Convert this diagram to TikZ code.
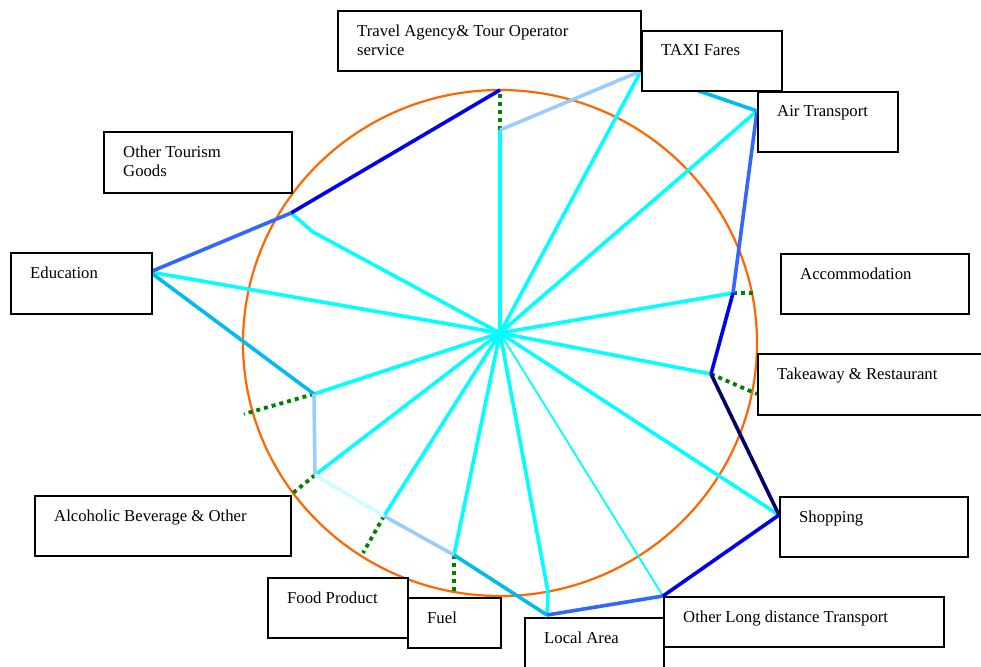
\documentclass[tikz,border=0pt]{standalone}
\usepackage{fontspec}
\setmainfont{Liberation Serif}
\usetikzlibrary{positioning}

\definecolor{ringorange}{HTML}{FF6600}
\definecolor{dotgreen}{HTML}{008000}
\definecolor{spokecyan}{HTML}{00FFFF}
\definecolor{deepblue}{HTML}{0000EE}
\definecolor{midblue}{HTML}{3366FF}
\definecolor{navyblue}{HTML}{000066}
\definecolor{skyblue}{HTML}{00BBEE}
\definecolor{paleblue}{HTML}{99CCFF}
\definecolor{paleteal}{HTML}{CCFFFF}

\begin{document}
\begin{tikzpicture}[x=1pt,y=-1pt,
  box/.style={draw,line width=1.8pt,fill=white,inner sep=0pt,anchor=north west},
  lbl/.style={anchor=north west,inner sep=0pt,align=left,font=\fontsize{16.7}{19.5}\selectfont},
  spoke/.style={spokecyan,line width=3.6pt,line join=round},
  rimline/.style={line width=3.6pt,line join=round},
  dots/.style={dotgreen,line width=3.8pt,dash pattern=on 4pt off 4pt}]
\useasboundingbox (0,0) rectangle (981,666);

% ring
\draw[ringorange,line width=2.2pt] (500,343) ellipse [x radius=257,y radius=253];

% points of the chart
\coordinate (hub) at (500,333);
\coordinate (topv) at (500,130);
\coordinate (topr) at (500,90);
\coordinate (taxiv) at (641,71);
\coordinate (airv) at (757,111);
\coordinate (accv) at (733,293);
\coordinate (accr) at (755,293);
\coordinate (takev) at (711,374);
\coordinate (taker) at (757,394);
\coordinate (shopv) at (779,515);
\coordinate (longv) at (663,596);
\coordinate (localb) at (548,592);
\coordinate (localv) at (547,615);
\coordinate (fuelv) at (454,555);
\coordinate (fuelr) at (454,594);
\coordinate (foodv) at (384,516);
\coordinate (foodr) at (363,553);
\coordinate (alcov) at (315,475);
\coordinate (alcor) at (293,493);
\coordinate (midv) at (314,394);
\coordinate (midr) at (244,414);
\coordinate (eduv) at (150,272);
\coordinate (otherb) at (313,232);
\coordinate (otherv) at (291,213);

% spokes
\foreach \v in {topv,taxiv,airv,accv,takev,shopv,fuelv,foodv,alcov,midv,eduv}
  \draw[spoke] (hub) -- (\v);
\draw[spoke,line width=1.8pt] (hub) -- (longv);
\draw[spoke] (hub) -- (localb) -- (localv);
\draw[spoke] (hub) -- (otherb) -- (otherv);

% dotted ticks
\draw[dots] (topv) -- (topr);
\draw[dots] (accv) -- (accr);
\draw[dots] (takev) -- (taker);
\draw[dots] (fuelv) -- (fuelr);
\draw[dots] (foodv) -- (foodr);
\draw[dots] (alcov) -- (alcor);
\draw[dots] (midv) -- (midr);

% outline
\draw[rimline,deepblue] (topr) -- (otherv);
\draw[rimline,midblue] (otherv) -- (eduv);
\draw[rimline,skyblue] (eduv) -- (midv);
\draw[rimline,paleblue] (midv) -- (alcov);
\draw[rimline,paleteal] (alcov) -- (foodv);
\draw[rimline,paleblue] (foodv) -- (fuelv);
\draw[rimline,skyblue] (fuelv) -- (localv);
\draw[rimline,midblue] (localv) -- (longv);
\draw[rimline,deepblue] (longv) -- (shopv);
\draw[rimline,navyblue] (shopv) -- (takev);
\draw[rimline,deepblue] (takev) -- (accv);
\draw[rimline,midblue] (accv) -- (airv);
\draw[rimline,skyblue] (airv) -- (taxiv);
\draw[rimline,paleblue] (taxiv) -- (topv);

% boxes
\node[box,minimum width=303pt,minimum height=60pt] (travel) at (337,10) {};
\node[box,minimum width=140pt,minimum height=60pt] (taxi) at (641,30) {};
\node[box,minimum width=140pt,minimum height=60pt] (air) at (757,91) {};
\node[box,minimum width=188pt,minimum height=61pt] (other) at (103,131) {};
\node[box,minimum width=141pt,minimum height=61pt] (edu) at (10,252) {};
\node[box,minimum width=188pt,minimum height=60pt] (acc) at (780,253) {};
\node[box,minimum width=240pt,minimum height=61pt] (take) at (757,353) {};
\node[box,minimum width=256pt,minimum height=60pt] (alco) at (34,495) {};
\node[box,minimum width=188pt,minimum height=60pt] (shop) at (779,496) {};
\node[box,minimum width=140pt,minimum height=60pt] (food) at (267,577) {};
\node[box,minimum width=93pt,minimum height=50pt] (fuel) at (407,597) {};
\node[box,minimum width=139pt,minimum height=70pt] (local) at (524,617) {};
\node[box,minimum width=280pt,minimum height=50pt] (long) at (663,596) {};

% labels
\node[lbl] (travel-t) at ([shift={(20,14.6)}]travel.north west) {Travel Agency\& Tour Operator\\service};
\node[lbl] (taxi-t) at ([shift={(20,14.6)}]taxi.north west) {TAXI Fares};
\node[lbl] (air-t) at ([shift={(20,14.6)}]air.north west) {Air Transport};
\node[lbl] (other-t) at ([shift={(20,14.6)}]other.north west) {Other Tourism\\Goods};
\node[lbl] (edu-t) at ([shift={(20,14.6)}]edu.north west) {Education};
\node[lbl] (acc-t) at ([shift={(20,14.6)}]acc.north west) {Accommodation};
\node[lbl] (take-t) at ([shift={(20,14.6)}]take.north west) {Takeaway \& Restaurant};
\node[lbl] (alco-t) at ([shift={(20,14.6)}]alco.north west) {Alcoholic Beverage \& Other};
\node[lbl] (shop-t) at ([shift={(20,14.6)}]shop.north west) {Shopping};
\node[lbl] (food-t) at ([shift={(20,14.6)}]food.north west) {Food Product};
\node[lbl] (fuel-t) at ([shift={(20,14.6)}]fuel.north west) {Fuel};
\node[lbl] (local-t) at ([shift={(20,14.6)}]local.north west) {Local Area};
\node[lbl] (long-t) at ([shift={(20,14.6)}]long.north west) {Other Long distance Transport};
\end{tikzpicture}
\end{document}
